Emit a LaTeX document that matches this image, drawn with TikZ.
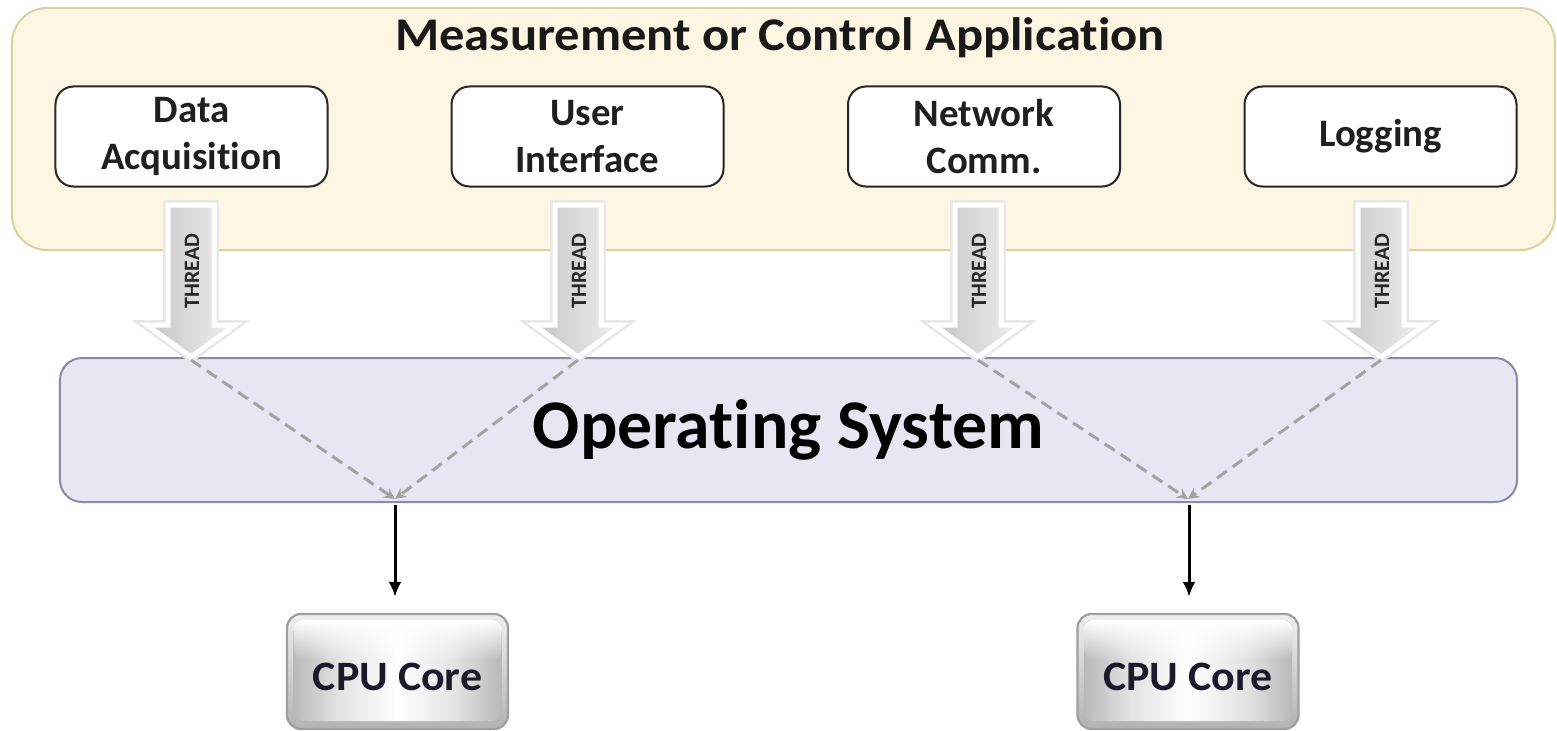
\documentclass[tikz,border=0pt]{standalone}
\usepackage{fontspec}
\setmainfont{Carlito}[Ligatures=NoCommon]
\usetikzlibrary{arrows.meta,shadings,fadings}
\definecolor{appfill}{HTML}{FEF6E2}
\definecolor{appedge}{HTML}{D6D39E}
\definecolor{osfill}{HTML}{E7E7F3}
\definecolor{osedge}{HTML}{8A8AA6}
\definecolor{dashgray}{HTML}{A3A3A3}
\definecolor{cputext}{HTML}{1A1A2A}
\pgfdeclarehorizontalshading{cpush}{100bp}{color(0bp)=(gray!55); color(25bp)=(gray!55); color(36bp)=(gray!22); color(50bp)=(white); color(64bp)=(gray!22); color(75bp)=(gray!55); color(100bp)=(gray!55)}
\tikzfading[name=topfade, top color=transparent!0, bottom color=transparent!100]
\begin{document}
\begin{tikzpicture}[x=1bp,y=-1bp,
  appbox/.style={draw=appedge, line width=2bp, fill=appfill, rounded corners=35bp,
    minimum width=1543bp, minimum height=242bp, inner sep=0pt},
  apptitle/.style={font=\bfseries\fontsize{47}{47}\selectfont, text=black!90, inner sep=0pt, xscale=1.08},
  subbox/.style={draw=black!85, line width=2bp, fill=white, rounded corners=18bp,
    minimum width=272bp, minimum height=100bp, align=center, inner sep=0pt,
    font=\bfseries\fontsize{39}{48}\selectfont, text=black!88},
  osbox/.style={draw=osedge, line width=2bp, fill=osfill, rounded corners=22bp,
    minimum width=1457bp, minimum height=144bp, inner sep=0pt,
    font=\bfseries\fontsize{70}{70}\selectfont, text=black},
  cpubox/.style={draw=gray!75, line width=2.2bp, rounded corners=14bp,
    minimum width=221bp, minimum height=115bp, inner sep=0pt,
    font=\bfseries\fontsize{42}{42}\selectfont, text=cputext},
  cpulabel/.style={font=\bfseries\fontsize{42}{42}\selectfont, text=cputext, inner sep=0pt, xscale=1.05},
  threadglow/.style={draw=black!9, line width=10bp, line join=miter},
  threadbody/.style={draw=white, line width=5bp, line join=miter,
    left color=gray!45, right color=gray!12},
  threadtext/.style={rotate=90, font=\bfseries\fontsize{22}{22}\selectfont, inner sep=0pt, text=black!85},
  dashln/.style={draw=dashgray, line width=3bp, dash pattern=on 12bp off 7bp,
    -{Stealth[length=11bp,width=11bp]}},
  cpuarrow/.style={draw=black, line width=3bp, -{Latex[length=15bp,width=13bp]}, shorten >=16bp}
]
\useasboundingbox (0,0) rectangle (1557,731);
% application box
\node[appbox] (app) at (783.5,129) {};
\node[apptitle] (title) at (780,38) {Measurement or Control Application};
\node[subbox] (daq) at (191.5,136.5) {Data\\Acquisition};
\node[subbox] (ui) at (587.5,136.5) {User\\Interface};
\node[subbox] (net) at (984,136.5) {Network\\Comm.};
\node[subbox] (log) at (1380.5,136.5) {Logging};
% operating system
\node[osbox] (os) at (788.5,430) {Operating System};
% thread arrows
\foreach \c/\n in {191/1,578/2,978/3,1381/4}{
  \path[threadglow] (\c-23,205) -- (\c+23,205) -- (\c+23,325) -- (\c+44,325) -- (\c,357) -- (\c-44,325) -- (\c-23,325) -- cycle;
  \path[threadbody] (\c-23,205) -- (\c+23,205) -- (\c+23,325) -- (\c+44,325) -- (\c,357) -- (\c-44,325) -- (\c-23,325) -- cycle;
  \node[threadtext] (thr\n) at (\c+1,271) {THREAD};
  \coordinate (tip\n) at (\c,360);
}
% cores
\foreach \x/\n in {397.5/1,1188/2}{
  \path[rounded corners=14bp, top color=gray!12, bottom color=gray!60] (\x-110.5,614) rectangle (\x+110.5,729);
  \path[rounded corners=10bp, shading=cpush] (\x-104,622) rectangle (\x+104,721);
  \fill[white, path fading=topfade, rounded corners=10bp] (\x-104,620) rectangle (\x+104,660);
  \node[cpubox] (cpu\n) at (\x,671.5) {};
  \node[cpulabel] (cpul\n) at (\x,677) {CPU Core};
}
\coordinate (m1) at (395,499);
\coordinate (m2) at (1188,499);
\coordinate (a1) at (395,505);
\coordinate (a2) at (1189,505);
\draw[dashln] (tip1) -- (m1);
\draw[dashln] (tip2) -- (m1);
\draw[dashln] (tip3) -- (m2);
\draw[dashln] (tip4) -- (m2);
\draw[cpuarrow] (a1) -- (a1 |- cpu1.north);
\draw[cpuarrow] (a2) -- (a2 |- cpu2.north);
\end{tikzpicture}
\end{document}
